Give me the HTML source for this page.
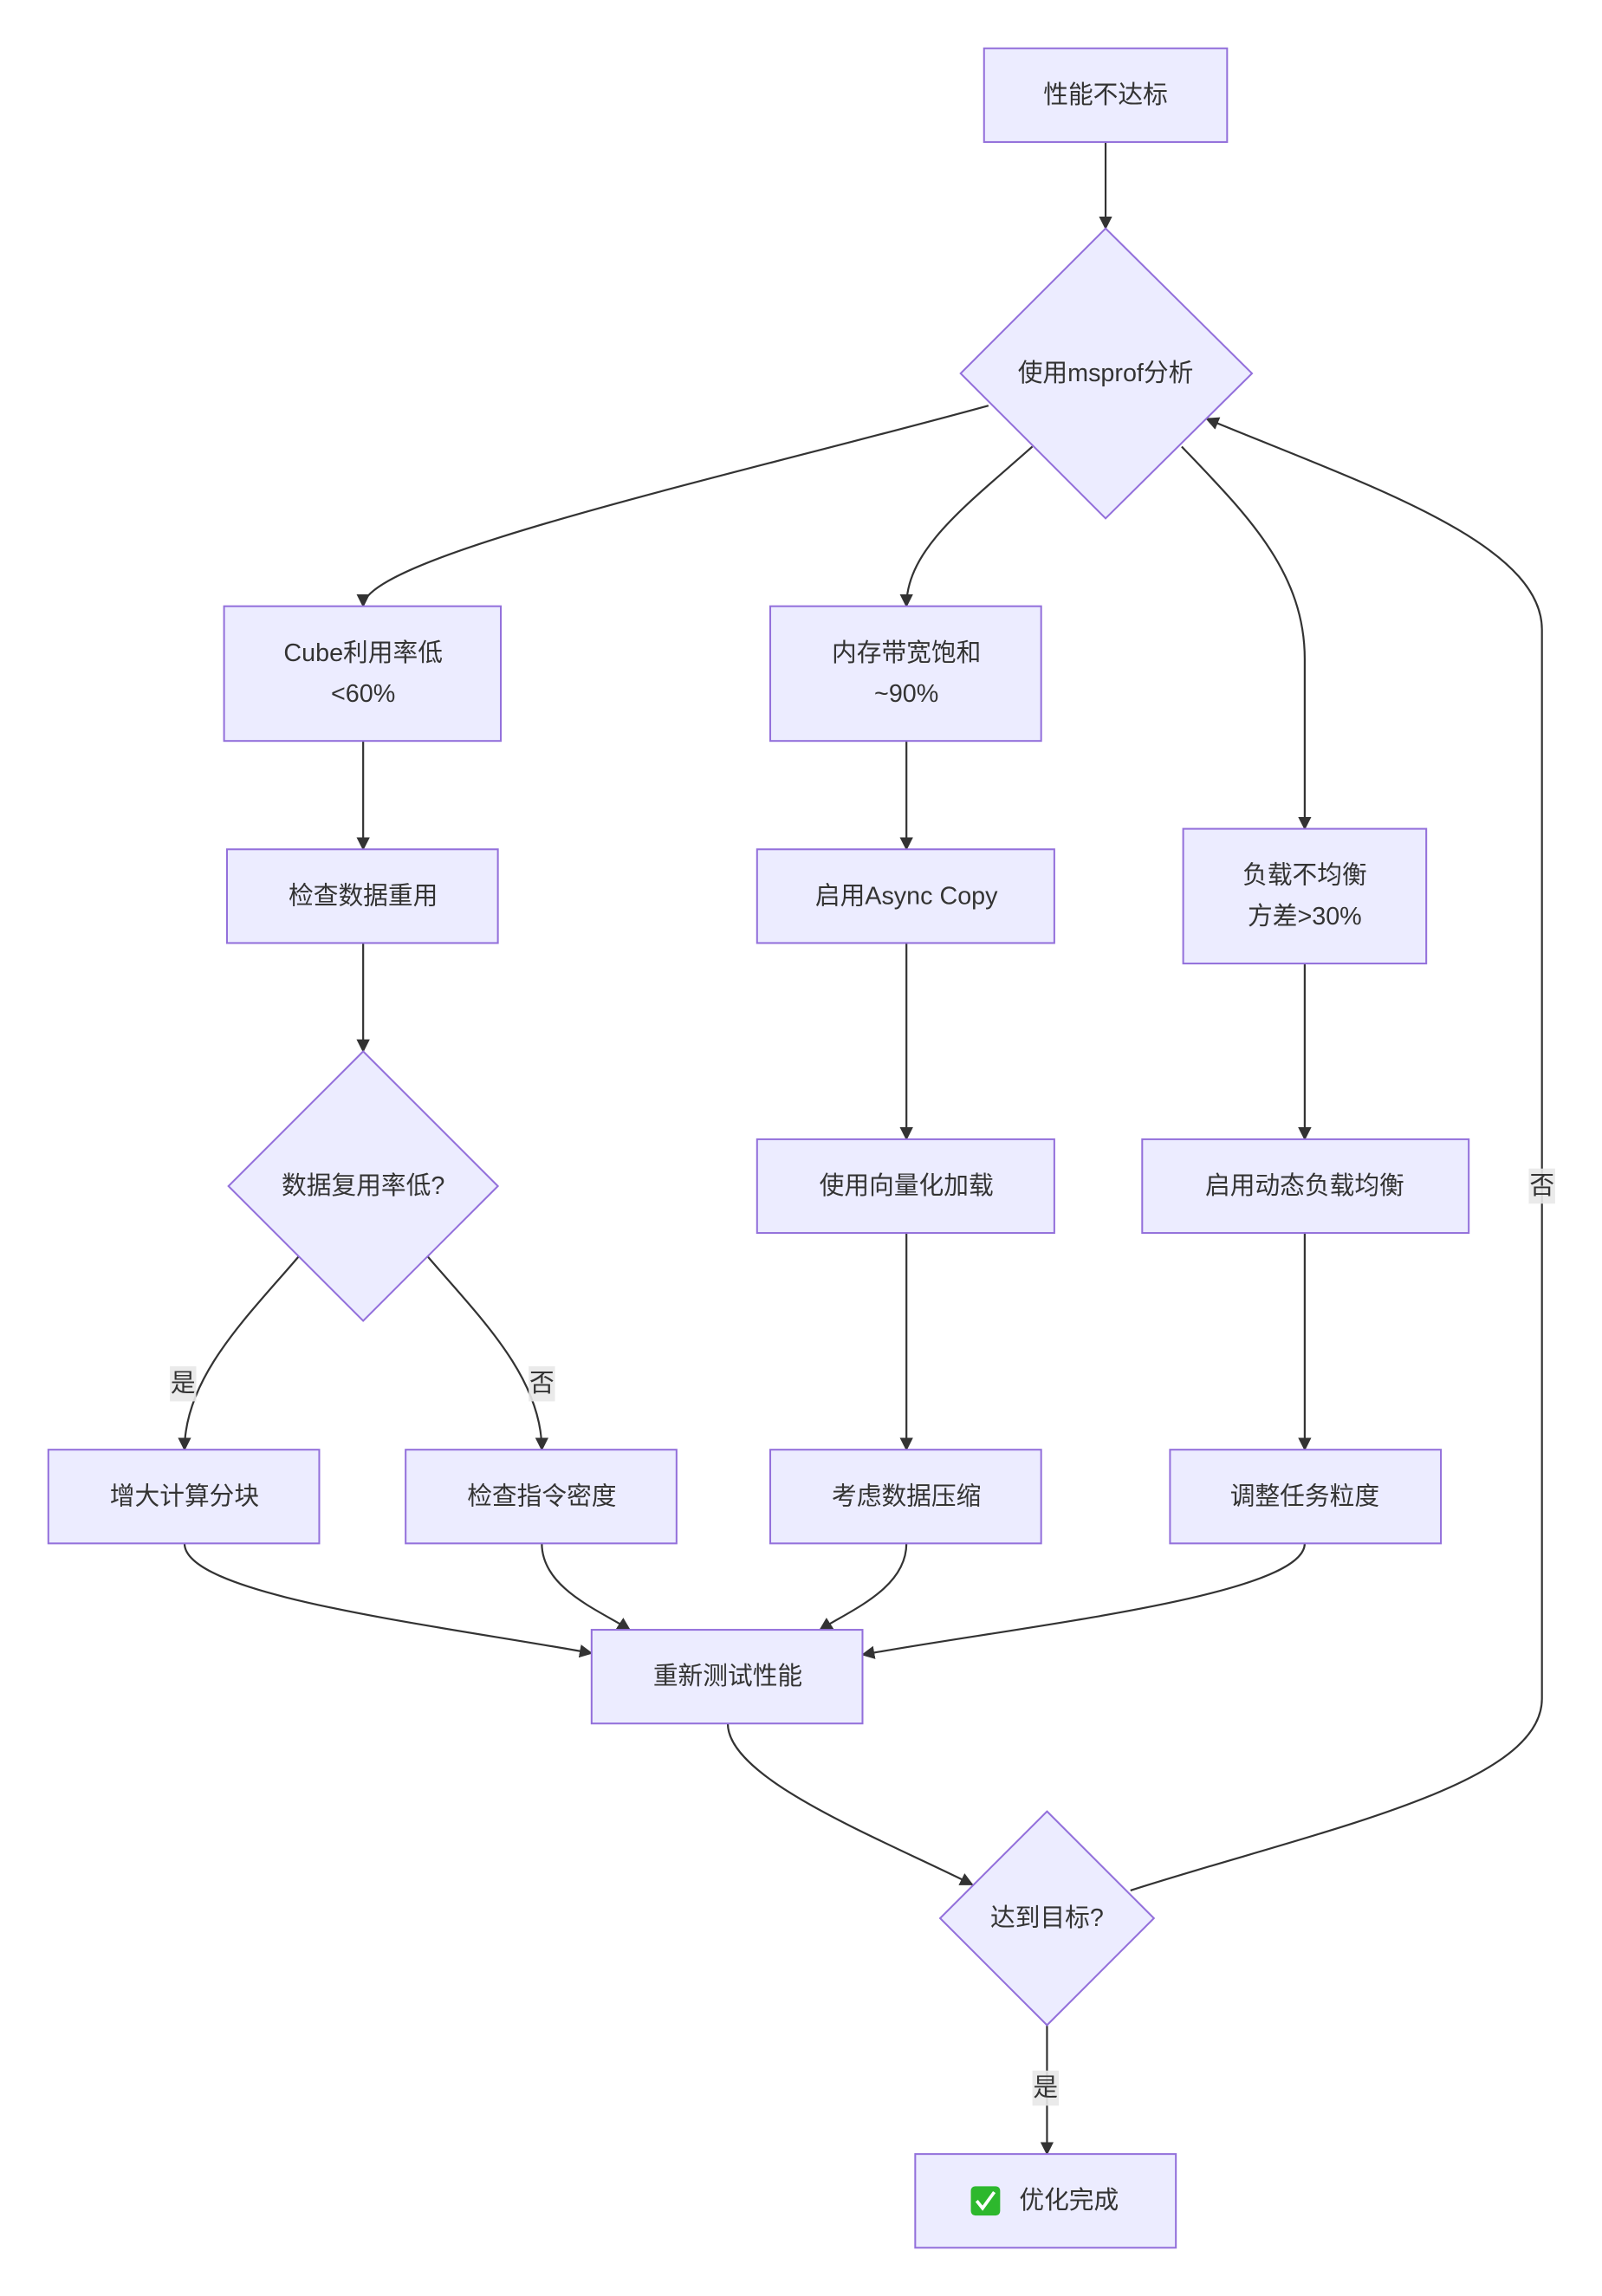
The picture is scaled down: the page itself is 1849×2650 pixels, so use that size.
<!DOCTYPE html>
<html><head><meta charset="utf-8"><style>
html,body{margin:0;padding:0;background:#fff}
text{font-family:"Liberation Sans","Noto Sans CJK SC",sans-serif;font-size:17px;fill:#333;text-anchor:middle;dominant-baseline:central}
.n{fill:#ECECFF;stroke:#9370DB;stroke-width:1.2}
.e{fill:none;stroke:#333;stroke-width:1.3}
.lb{fill:#e8e8e8;opacity:.9}
</style></head><body>
<svg width="1849" height="2645" viewBox="0 0 1094 1565" xmlns="http://www.w3.org/2000/svg">
<defs><marker id="a" viewBox="0 0 10 10" refX="9" refY="5" markerWidth="7" markerHeight="7" orient="auto-start-reverse"><path d="M0,0L10,5L0,10z" fill="#333"/></marker></defs>
<g class="e" marker-end="url(#a)">
<path d="M755,97L755,156"/>
<path d="M675,277C500,325 248,380 248,414"/>
<path d="M705,305C660,345 619,375 619,414"/>
<path d="M807,305C850,350 891,390 891,450L891,566"/>
<path d="M248,506L248,580"/>
<path d="M248,644L248,718"/>
<path d="M204,858C170,898 126,940 126,990"/>
<path d="M292,858C326,898 370,940 370,990"/>
<path d="M619,506L619,580"/>
<path d="M619,644L619,778"/>
<path d="M619,842L619,990"/>
<path d="M891,658L891,778"/>
<path d="M891,842L891,990"/>
<path d="M126,1054C126,1090 300,1110 404,1129"/>
<path d="M370,1054C370,1085 410,1100 430,1113"/>
<path d="M619,1054C619,1085 580,1100 560,1113"/>
<path d="M891,1054C891,1090 700,1110 589,1130"/>
<path d="M497,1177C497,1215 600,1255 664,1287"/>
<path d="M772,1291C900,1250 1053,1220 1053,1160L1053,430C1053,370 930,330 824,286"/>
<path d="M715,1383L715,1471"/>
</g>
<rect class="lb" x="116" y="933" width="18" height="24"/><text x="125" y="945">是</text>
<rect class="lb" x="361" y="933" width="18" height="24"/><text x="370" y="945">否</text>
<rect class="lb" x="1044" y="798" width="18" height="24"/><text x="1053" y="810">否</text>
<rect class="lb" x="705" y="1414" width="18" height="24"/><text x="714" y="1426">是</text>
<rect class="n" x="672" y="33" width="166" height="64"/><text x="755" y="65">性能不达标</text>
<path class="n" d="M755,156L855,255L755,354L656,255Z"/><text x="755" y="255">使用msprof分析</text>
<rect class="n" x="153" y="414" width="189" height="92"/><text x="248" y="446">Cube利用率低</text><text x="248" y="474">&lt;60%</text>
<rect class="n" x="526" y="414" width="185" height="92"/><text x="619" y="446">内存带宽饱和</text><text x="619" y="474">~90%</text>
<rect class="n" x="808" y="566" width="166" height="92"/><text x="891" y="598">负载不均衡</text><text x="891" y="626">方差&gt;30%</text>
<rect class="n" x="155" y="580" width="185" height="64"/><text x="248" y="612">检查数据重用</text>
<rect class="n" x="517" y="580" width="203" height="64"/><text x="619" y="612">启用Async Copy</text>
<path class="n" d="M248,718L340,810L248,902L156,810Z"/><text x="248" y="810">数据复用率低?</text>
<rect class="n" x="517" y="778" width="203" height="64"/><text x="619" y="810">使用向量化加载</text>
<rect class="n" x="780" y="778" width="223" height="64"/><text x="891" y="810">启用动态负载均衡</text>
<rect class="n" x="33" y="990" width="185" height="64"/><text x="126" y="1022">增大计算分块</text>
<rect class="n" x="277" y="990" width="185" height="64"/><text x="370" y="1022">检查指令密度</text>
<rect class="n" x="526" y="990" width="185" height="64"/><text x="619" y="1022">考虑数据压缩</text>
<rect class="n" x="799" y="990" width="185" height="64"/><text x="891" y="1022">调整任务粒度</text>
<rect class="n" x="404" y="1113" width="185" height="64"/><text x="497" y="1145">重新测试性能</text>
<path class="n" d="M715,1237L788,1310L715,1383L642,1310Z"/><text x="715" y="1310">达到目标?</text>
<rect class="n" x="625" y="1471" width="178" height="64"/>
<rect x="663" y="1493" width="20" height="20" rx="3" fill="#2db82d"/><path d="M667,1503L671,1508L679,1497" fill="none" stroke="#fff" stroke-width="2.2"/>
<text x="730" y="1503">优化完成</text>
</svg>
</body></html>
